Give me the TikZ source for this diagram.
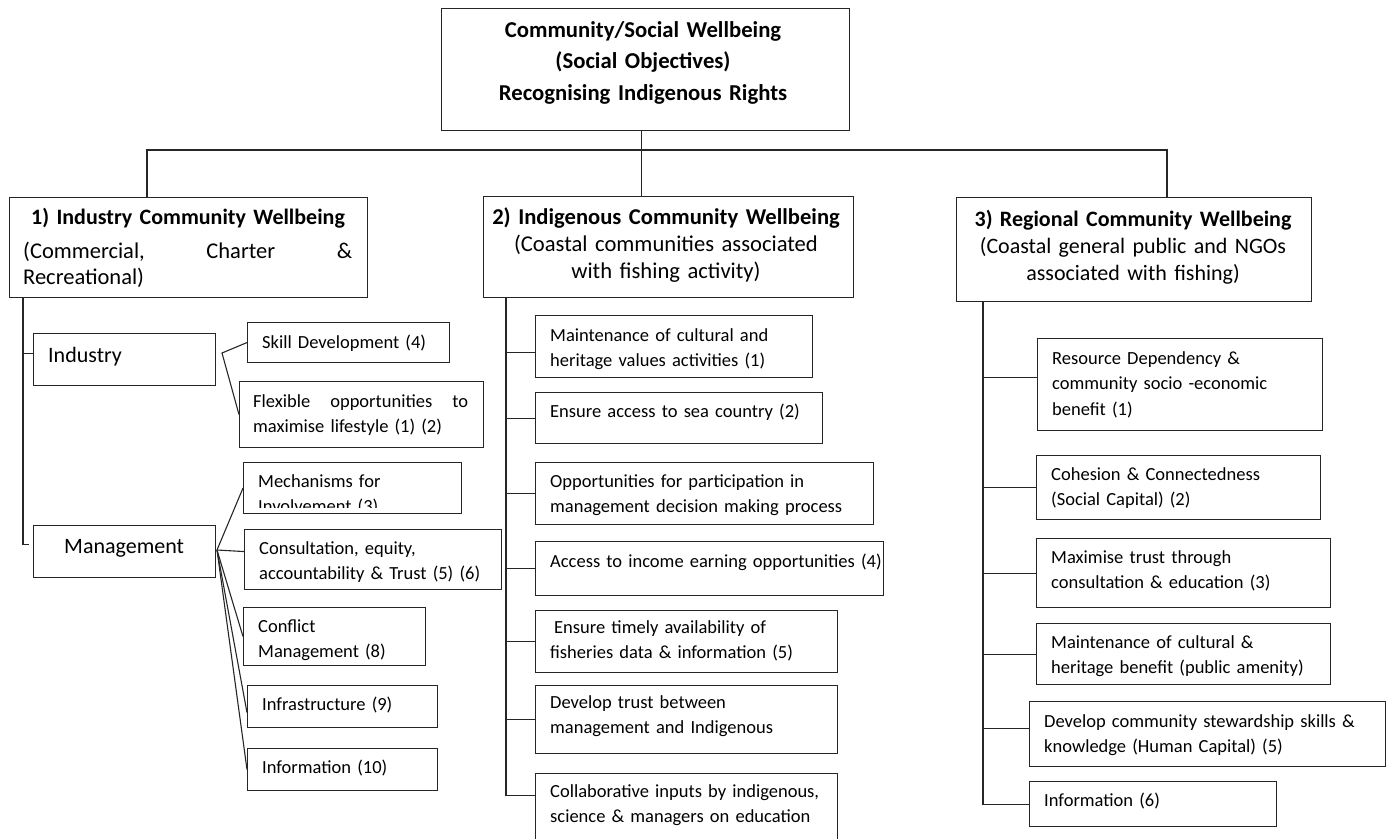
\documentclass[tikz,border=0pt]{standalone}
\usepackage{fontspec}
\setmainfont{Carlito}
\usetikzlibrary{positioning}

\tikzset{
  objframe/.style={draw=black!85, line width=1.1pt, anchor=north west, inner sep=0pt},
  boxtext/.style={anchor=base west, inner sep=0pt, align=left, text width=360pt, font=\fontsize{18.5}{25.5}\selectfont},
  headtext/.style={anchor=base, inner sep=0pt, align=center, text width=380pt, font=\fontsize{22}{27}\selectfont},
  link/.style={draw=black!85, line width=1.1pt},
}

% box: [baseline offset] name, x, y, width, height, text
\newcommand{\obox}[7][25]{%
  \node[objframe, minimum width=#5pt, minimum height=#6pt] (#2) at (#3,#4) {};
  \node[boxtext] (#2-t) at ([xshift=15pt,yshift=-#1pt]#2.north west) {#7};}

\begin{document}
\begin{tikzpicture}[x=1pt,y=-1pt]
\clip (0,0) rectangle (1386,838);

% top box
\node[objframe, minimum width=408pt, minimum height=122pt] (top) at (441,8) {};
\node[headtext, font=\bfseries\fontsize{22.7}{31.5}\selectfont] (top-t) at (643,37) {Community/Social Wellbeing\\(Social Objectives)\\Recognising Indigenous Rights};

% three groups
\node[objframe, minimum width=358pt, minimum height=100pt] (b1) at (9,197) {};
\node[headtext, font=\bfseries\fontsize{22}{27}\selectfont] (b1-h) at (188,224) {1) Industry Community Wellbeing};
\node[boxtext, text width=329pt, font=\fontsize{22.5}{26}\selectfont] (b1-t) at (23,258) {(Commercial,\hfill Charter\hfill \&\\Recreational)};

\node[objframe, minimum width=370pt, minimum height=101pt] (b2) at (483,196) {};
\node[headtext, font=\fontsize{22.6}{27}\selectfont] (b2-t) at (666,224) {{\bfseries 2) Indigenous Community Wellbeing}\\(Coastal communities associated\\with fishing activity)};

\node[objframe, minimum width=355pt, minimum height=104pt] (b3) at (956,197) {};
\node[headtext] (b3-t) at (1133,226) {{\bfseries 3) Regional Community Wellbeing}\\(Coastal general public and NGOs\\associated with fishing)};

% industry column
\node[objframe, minimum width=182pt, minimum height=52pt] (ind) at (33,333) {};
\node[boxtext, font=\fontsize{22}{26}\selectfont] (ind-t) at (48,362) {Industry};
\node[objframe, minimum width=182pt, minimum height=52pt] (mgmt) at (33,525) {};
\node[boxtext, font=\fontsize{22}{26}\selectfont] (mgmt-t) at (64,553) {Management};

\obox[26]{skill}{247}{322}{202}{40}{Skill Development (4)}
\node[objframe, minimum width=244pt, minimum height=66pt] (flex) at (239,381) {};
\node[boxtext, text width=215pt] (flex-t) at (253,407) {Flexible\hfill opportunities\hfill to\\maximise lifestyle (1) (2)};

\node[objframe, minimum width=218pt, minimum height=51pt] (mech) at (243,462) {};
\begin{scope}
\clip (243,462) rectangle (461,507);
\node[boxtext] (mech-t) at (258,487) {Mechanisms for\\Involvement (3)};
\end{scope}
\obox{cons}{244}{529}{257}{60}{Consultation, equity,\\accountability \& Trust (5) (6)}
\obox{confl}{243}{607}{182}{58}{Conflict\\Management (8)}
\obox{infra}{247}{685}{190}{42}{Infrastructure (9)}
\obox{info}{247}{748}{190}{42}{Information (10)}

% indigenous column
\obox[26]{m1}{535}{315}{277}{62}{Maintenance of cultural and\\heritage values activities (1)}
\obox{m2}{535}{392}{287}{51}{Ensure access to sea country (2)}
\obox{m3}{535}{462}{338}{62}{Opportunities for participation in\\management decision making process}
\obox[26]{m4}{535}{541}{348}{54}{Access to income earning opportunities (4)}
\obox[23]{m5}{535}{610}{302}{62}{\hspace*{4pt}Ensure timely availability of\\fisheries data \& information (5)}
\obox[23]{m6}{535}{685}{302}{68}{Develop trust between\\management and Indigenous}
\obox[24]{m7}{535}{773}{302}{80}{Collaborative inputs by indigenous,\\science \& managers on education}

% regional column
\obox[26]{r1}{1037}{338}{285}{92}{Resource Dependency \&\\community socio -economic\\benefit (1)}
\obox{r2}{1036}{455}{284}{64}{Cohesion \& Connectedness\\(Social Capital) (2)}
\obox{r3}{1036}{538}{294}{69}{Maximise trust through\\consultation \& education (3)}
\obox{r4}{1036}{623}{294}{61}{Maintenance of cultural \&\\heritage benefit (public amenity)}
\obox[26]{r5}{1029}{701}{356}{65}{Develop community stewardship skills \&\\knowledge (Human Capital) (5)}
\obox{r6}{1029}{781}{247}{45}{Information (6)}

% top connectors
\draw[link] ([xshift=-4pt]top.south) -- ([xshift=-4pt]top.south |- b2.north);
\draw[link] (147,0 |- b1.north) |- (641,150) -| (1167,0 |- b3.north);

% industry side
\coordinate (indin) at ([yshift=6pt]ind.west);
\draw[link] (23,0 |- b1.south) |- ([xshift=-4pt,yshift=7pt]mgmt.west);
\draw[link] (23,0 |- indin) -- (indin);
\coordinate (indfan) at (222,353);
\draw[link] (skill.west) -- (indfan) -- (flex.west);
\coordinate (mgfan) at (217,550);
\draw[link] (mgfan) -- (mech.west); \draw[link] (mgfan) -- ([yshift=8pt]cons.west); \draw[link] (mgfan) -- (confl.west);
\draw[link] (mgfan) -- ([yshift=-6pt]infra.west); \draw[link] (mgfan) -- (info.west);

% indigenous side
\coordinate (m1in) at ([yshift=-6pt]m1.west);
\draw[link] (506,0 |- b2.south) |- ([yshift=18pt]m7.west);
\draw[link] (506,0 |- m1in) -- (m1in);
\draw[link] (506,0 |- m2.west) -- (m2.west); \draw[link] (506,0 |- m3.west) -- (m3.west);
\draw[link] (506,0 |- m4.west) -- (m4.west); \draw[link] (506,0 |- m5.west) -- (m5.west);
\draw[link] (506,0 |- m6.west) -- (m6.west);

% regional side
\coordinate (r1in) at ([yshift=7pt]r1.west);
\coordinate (r5in) at ([yshift=6pt]r5.west);
\draw[link] (983,0 |- b3.south) |- (r6.west);
\draw[link] (983,0 |- r1in) -- (r1in);
\draw[link] (983,0 |- r2.west) -- (r2.west); \draw[link] (983,0 |- r3.west) -- (r3.west);
\draw[link] (983,0 |- r4.west) -- (r4.west);
\draw[link] (983,0 |- r5in) -- (r5in);
\end{tikzpicture}
\end{document}
